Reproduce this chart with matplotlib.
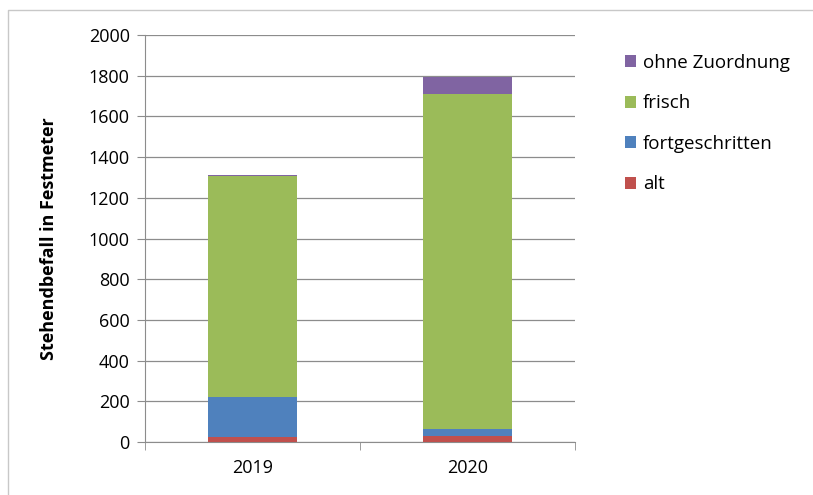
import matplotlib
matplotlib.use("Agg")
import matplotlib.pyplot as plt
import numpy as np
from matplotlib.lines import Line2D

years = ["2019", "2020"]
series = ["alt", "fortgeschritten", "frisch", "ohne Zuordnung"]
alt = [25, 30]
fortgeschritten = [195, 35]
frisch = [1085, 1645]
ohne = [5, 85]
colors = ["#C0504D", "#4F81BD", "#9BBB59", "#8064A2"]

plt.rcParams["font.family"] = ["Open Sans", "DejaVu Sans"]

fig = plt.figure(figsize=(8.13, 4.95), dpi=100)
ax = fig.add_axes([145/813, 1-442/495, 430/813, 407/495])
# outer frame (top and left edges only visible)
fig.lines.append(Line2D([8/813, 8/813, 1], [0, 1-10/495, 1-10/495], transform=fig.transFigure,
                        color="#c8c8c8", lw=1))

x = np.arange(len(years))
bottom = np.zeros(len(years))
handles = []
for vals, name, c in zip([alt, fortgeschritten, frisch, ohne], series, colors):
    h = ax.bar(x, vals, width=0.41, bottom=bottom, color=c, label=name, zorder=3)
    bottom += np.array(vals)
    handles.append(h)

ax.set_xlim(-0.5, 1.5)
ax.set_ylim(0, 2000)
ax.set_yticks(range(0, 2001, 200))
ax.yaxis.grid(True, color="#8c8c8c", lw=0.9, zorder=0)
ax.set_xticks(x)
ax.set_xticklabels(years)
ax.set_xticks([-0.5, 0.5, 1.5], minor=True)
ax.tick_params(axis="x", which="major", length=0, pad=12, labelsize=13)
ax.tick_params(axis="x", which="minor", length=6, color="#8c8c8c")
ax.tick_params(axis="y", length=6, color="#8c8c8c", labelsize=13, pad=5)
for s in ["top", "right"]:
    ax.spines[s].set_visible(False)
for s in ["left", "bottom"]:
    ax.spines[s].set_color("#8c8c8c")
ax.set_ylabel("Stehendbefall in Festmeter", fontweight="bold", fontsize=13, labelpad=22)

fig.legend(handles[::-1], series[::-1], loc="upper left", bbox_to_anchor=(608/813, 1-37/495),
           frameon=False, fontsize=13.5, handlelength=0.6, handleheight=0.6,
           handletextpad=0.35, labelspacing=1.2)

fig.savefig("out.png", dpi=100)
